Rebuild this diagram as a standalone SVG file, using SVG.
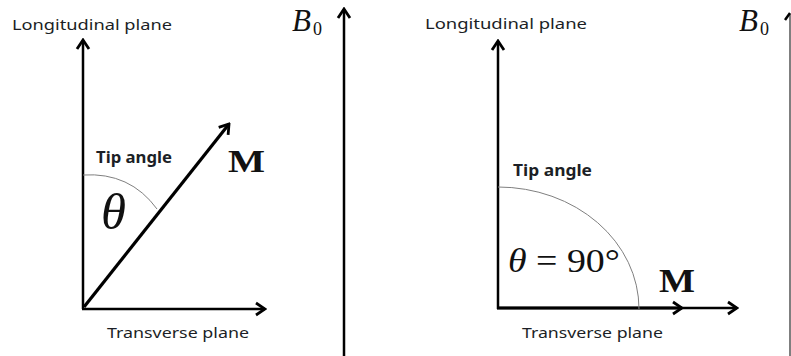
<svg xmlns="http://www.w3.org/2000/svg" width="791" height="356" viewBox="0 0 791 356">
<style>
.lbl{font-family:"Noto Sans","Liberation Sans",sans-serif;font-size:15px;fill:#1c1f26}
.bold{font-weight:bold;font-size:16px}
.math{font-family:"Liberation Serif","DejaVu Serif",serif;fill:#111}
.ax{stroke:#000;stroke-width:2.5;fill:none}
.mv{stroke:#000;stroke-width:3.2;fill:none}
.arc{stroke:#808080;stroke-width:1;fill:none}
</style>
<defs>
<marker id="ah" markerUnits="userSpaceOnUse" viewBox="-14 -9 16 18" markerWidth="16" markerHeight="18" refX="0" refY="0" orient="auto">
<path d="M-9,-6 L0,0 L-9,6" fill="none" stroke="#000" stroke-width="2.8"/>
</marker>
</defs>
<g id="connectors">
<line class="ax" x1="83" y1="309" x2="83" y2="40" marker-end="url(#ah)"/>
<line class="ax" x1="82" y1="309" x2="265" y2="309" marker-end="url(#ah)"/>
<line class="mv" x1="84" y1="307" x2="229" y2="124" marker-end="url(#ah)"/>
<line class="ax" x1="344" y1="356" x2="344" y2="9" marker-end="url(#ah)"/>
<line class="ax" x1="498" y1="309" x2="498" y2="41" marker-end="url(#ah)"/>
<line class="ax" x1="497" y1="308" x2="737" y2="308" marker-end="url(#ah)"/>
<line class="mv" x1="497" y1="308" x2="682" y2="308" marker-end="url(#ah)"/>
<line x1="790" y1="356" x2="790" y2="14" stroke="#555" stroke-width="1.5"/>
<path d="M785,20 L790,13" stroke="#000" stroke-width="2.5" fill="none"/>
</g>
<g id="left-panel">
<text class="lbl" x="12" y="30" textLength="160" lengthAdjust="spacingAndGlyphs">Longitudinal plane</text>
<text class="lbl" x="107" y="338" textLength="142" lengthAdjust="spacingAndGlyphs">Transverse plane</text>
<text class="lbl bold" x="96" y="163" textLength="76" lengthAdjust="spacingAndGlyphs">Tip angle</text>
<path class="arc" d="M83,175 Q130,172 157,209"/>
<text class="math" x="101" y="229" font-size="50" font-style="italic" textLength="25" lengthAdjust="spacingAndGlyphs">θ</text>
<text class="math" x="228" y="172" font-size="32" font-weight="bold" textLength="37" lengthAdjust="spacingAndGlyphs">M</text>
</g>
<g id="left-b0">
<text class="math" x="292" y="31" font-size="31" font-style="italic">B</text>
<text class="math" x="313" y="35" font-size="18">0</text>
</g>
<g id="right-panel">
<text class="lbl" x="425" y="29" textLength="162" lengthAdjust="spacingAndGlyphs">Longitudinal plane</text>
<text class="lbl" x="522" y="338" textLength="141" lengthAdjust="spacingAndGlyphs">Transverse plane</text>
<text class="lbl bold" x="513" y="176" textLength="79" lengthAdjust="spacingAndGlyphs">Tip angle</text>
<path class="arc" d="M498,187 A141,122 0 0 1 639,309"/>
<text class="math" x="508" y="272" font-size="33" textLength="112" lengthAdjust="spacingAndGlyphs"><tspan font-style="italic">θ</tspan> = 90°</text>
<text class="math" x="659" y="292" font-size="34" font-weight="bold" textLength="36" lengthAdjust="spacingAndGlyphs">M</text>
</g>
<g id="right-b0">
<text class="math" x="739" y="31" font-size="31" font-style="italic">B</text>
<text class="math" x="760" y="35" font-size="18">0</text>
</g>
</svg>
